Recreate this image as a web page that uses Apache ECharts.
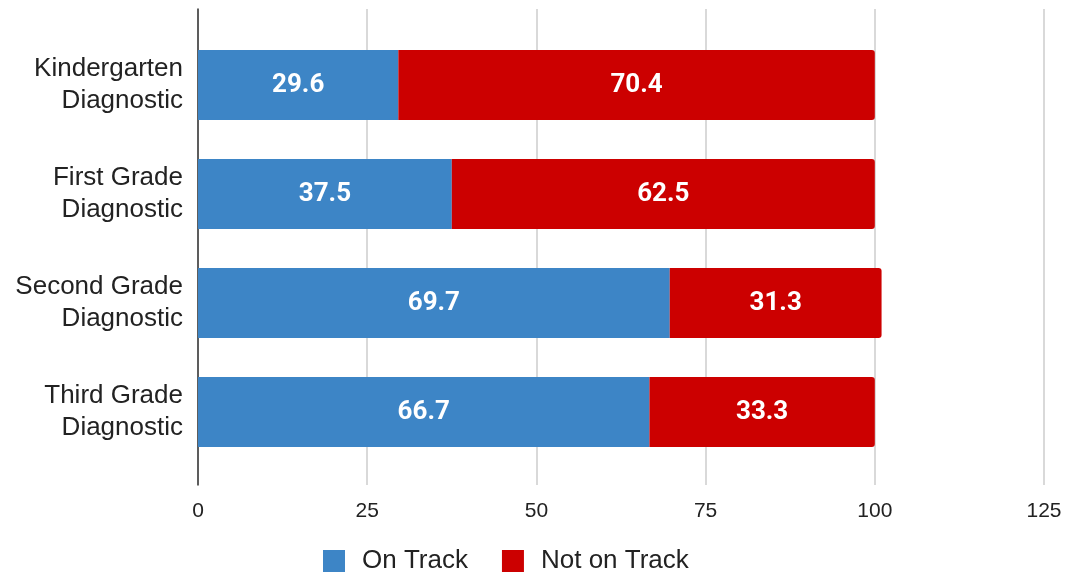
<!DOCTYPE html>
<html>
<head>
<meta charset="utf-8">
<script src="https://cdn.jsdelivr.net/npm/echarts@6/dist/echarts.min.js"></script>
<style>html,body{margin:0;padding:0;background:#fff;}#c{width:1070px;height:576px;}</style>
</head>
<body>
<div id="c"></div>
<script>
const categories = ["Kindergarten\nDiagnostic", "First Grade\nDiagnostic", "Second Grade\nDiagnostic", "Third Grade\nDiagnostic"];
const onTrack = [29.6, 37.5, 69.7, 66.7];
const notOnTrack = [70.4, 62.5, 31.3, 33.3];
const seriesNames = ["On Track", "Not on Track"];
const xTicks = [0, 25, 50, 75, 100, 125];

const FONT = '"Liberation Sans", Arial, sans-serif';
const chart = echarts.init(document.getElementById('c'), null, {renderer: 'canvas'});
const labelStyle = {show: true, position: 'inside', color: '#fff', fontSize: 26, fontWeight: 'bold', fontFamily: 'Roboto', formatter: p => p.value.toFixed(1)};
chart.setOption({
  animation: false,
  backgroundColor: '#fff',
  grid: [
    {left: 198, right: 26, top: 30.5, bottom: 109.5},
    {left: 198, right: 26, top: 9, bottom: 91}
  ],
  xAxis: [
    {gridIndex: 0, type: 'value', min: xTicks[0], max: xTicks[xTicks.length-1], interval: 25, show: false},
    {gridIndex: 1, type: 'value', min: xTicks[0], max: xTicks[xTicks.length-1], interval: 25,
     axisLine: {show: false}, axisTick: {show: false},
     axisLabel: {color: '#222', fontSize: 21, fontFamily: FONT, margin: 16},
     splitLine: {show: true, lineStyle: {color: '#cccccc', width: 1.5}}}
  ],
  yAxis: [
    {gridIndex: 0, type: 'category', data: categories, inverse: true,
     axisLine: {show: false}, axisTick: {show: false},
     axisLabel: {color: '#222', fontSize: 26, fontFamily: FONT, lineHeight: 32, margin: 15, align: 'right'}},
    {gridIndex: 1, type: 'value', min: 0, max: 1,
     axisLine: {show: true, onZero: false, lineStyle: {color: '#333', width: 1.5}},
     axisTick: {show: false}, axisLabel: {show: false}, splitLine: {show: false}}
  ],
  legend: {
    top: 548, left: 323, padding: 0, itemWidth: 22, itemHeight: 22, itemGap: 34,
    icon: 'rect',
    textStyle: {color: '#222', fontSize: 26, fontFamily: FONT, padding: [0,0,0,12]},
    data: seriesNames
  },
  series: [
    {name: seriesNames[0], type: 'bar', stack: 't', xAxisIndex: 0, yAxisIndex: 0, data: onTrack, barWidth: '64%',
     itemStyle: {color: '#3d85c6'}, label: labelStyle},
    {name: seriesNames[1], type: 'bar', stack: 't', xAxisIndex: 0, yAxisIndex: 0, data: notOnTrack, barWidth: '64%',
     itemStyle: {color: '#cc0000', borderRadius: [0, 3, 3, 0]}, label: labelStyle}
  ]
});
</script>
</body>
</html>
